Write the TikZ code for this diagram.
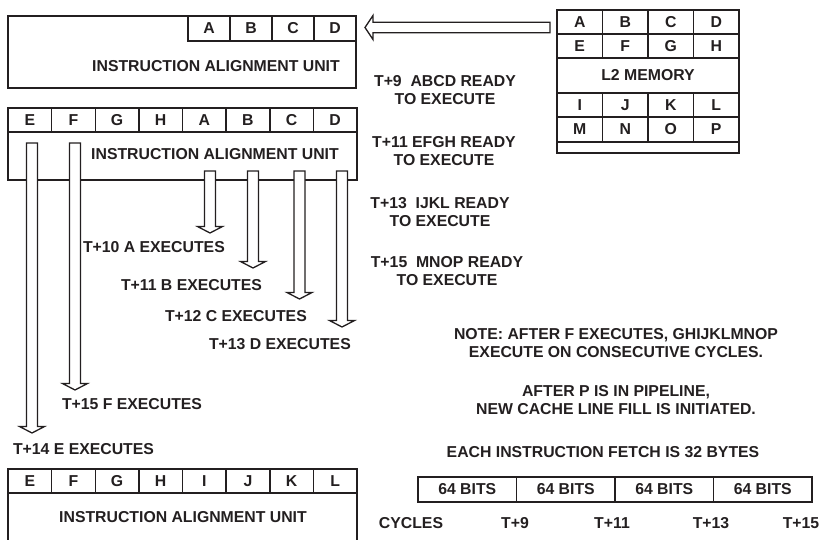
\documentclass[tikz,border=0pt]{standalone}
\usepackage{fontspec}
\setmainfont{Liberation Sans}
\usetikzlibrary{calc}
\definecolor{ink}{RGB}{35,31,32}
\newcommand\blockdown[2]{%
  \draw[blockarr] let \p1=(#1), \p2=(#2) in
    (\x1-5.5pt,\y1) -- (\x1+5.5pt,\y1) -- (\x1+5.5pt,\y2+6.5pt) -- (\x1+12.5pt,\y2+6.5pt)
    -- (\x1,\y2) -- (\x1-12.5pt,\y2+6.5pt) -- (\x1-5.5pt,\y2+6.5pt) -- cycle;}
\begin{document}
\begin{tikzpicture}[x=1pt,y=-1pt,
  every node/.style={font=\fontsize{15.8}{18}\selectfont\bfseries, text=ink, inner sep=0pt, outer sep=0pt},
  box/.style={draw=ink, line width=1.8pt, rectangle, anchor=north west},
  cell/.style={draw=ink, line width=1.5pt, rectangle, anchor=north west},
  blockarr/.style={draw=ink, fill=white, line width=1.3pt, line join=miter},
  note/.style={align=center},
  lbl/.style={anchor=west}]
\useasboundingbox (0,0) rectangle (823,539);

% ---------- top IAU ----------
\node[box, minimum width=348, minimum height=72] (iau1) at (8,16) {};
\foreach \l [count=\i from 0] in {A,B,C,D}
  \node[cell, minimum width=42, minimum height=25] (t\l) at ({188+42*\i},16) {\l};
\node (iau1t) at (216,66) {INSTRUCTION ALIGNMENT UNIT};

% ---------- L2 memory ----------
\node[box, minimum width=182, minimum height=143] (l2) at (557,10) {};
\foreach \l [count=\i from 0] in {A,B,C,D}
  \node[cell, minimum width=45.5, minimum height=24] (l2\l) at ({557+45.5*\i},10) {\l};
\foreach \l [count=\i from 0] in {E,F,G,H}
  \node[cell, minimum width=45.5, minimum height=24] (l2\l) at ({557+45.5*\i},34) {\l};
\node[cell, minimum width=182, minimum height=35] (l2mid) at (557,58) {L2 MEMORY};
\foreach \l [count=\i from 0] in {I,J,K,L}
  \node[cell, minimum width=45.5, minimum height=24] (l2\l) at ({557+45.5*\i},93) {\l};
\foreach \l [count=\i from 0] in {M,N,O,P}
  \node[cell, minimum width=45.5, minimum height=25] (l2\l) at ({557+45.5*\i},117) {\l};

% ---------- arrow L2 -> IAU ----------
\coordinate (fillsrc) at ($(l2A.west)+(-7,5.5)$);
\coordinate (filldst) at ($(iau1.north east |- fillsrc)+(9,0)$);
\draw[blockarr] let \p1=(fillsrc), \p2=(filldst) in
  (\x1,\y1+5.3pt) -- (\x2+8pt,\y1+5.3pt) -- (\x2+8pt,\y1+12pt) -- (\x2,\y2)
  -- (\x2+8pt,\y1-12pt) -- (\x2+8pt,\y1-5.3pt) -- (\x1,\y1-5.3pt) -- cycle;

% ---------- middle IAU ----------
\node[box, minimum width=349, minimum height=72] (iau2) at (8,108) {};
\foreach \l [count=\i from 0] in {E,F,G,H,A,B,C,D}
  \node[cell, minimum width=43.625, minimum height=24] (m\l) at ({8+43.625*\i},108) {\l};
\node (iau2t) at (215,154) {INSTRUCTION ALIGNMENT UNIT};

% ---------- execution arrows ----------
\coordinate (eS) at (32,143);   \coordinate (eT) at (32,433);
\coordinate (fS) at (75,143);   \coordinate (fT) at (75,390);
\coordinate (aS) at (210,171);  \coordinate (aT) at (210,233);
\coordinate (bS) at (253,171);  \coordinate (bT) at (253,268);
\coordinate (cS) at (299.5,171);\coordinate (cT) at (299.5,299);
\coordinate (dS) at (342,171);  \coordinate (dT) at (342,327);
\blockdown{eS}{eT}
\blockdown{fS}{fT}
\blockdown{aS}{aT}
\blockdown{bS}{bT}
\blockdown{cS}{cT}
\blockdown{dS}{dT}

\node[lbl] (ea) at (83,247) {T+10 A EXECUTES};
\node[lbl] (eb) at (121,285) {T+11 B EXECUTES};
\node[lbl] (ec) at (165,316) {T+12 C EXECUTES};
\node[lbl] (ed) at (209,344) {T+13 D EXECUTES};
\node[lbl] (ef) at (62,404) {T+15 F EXECUTES};
\node[lbl] (ee) at (13,449) {T+14 E EXECUTES};

% ---------- right notes ----------
\node[note] (r9)  at (445,90)  {T+9\ \ ABCD READY\\TO EXECUTE};
\node[note] (r11) at (444,151) {T+11 EFGH READY\\TO EXECUTE};
\node[note] (r13) at (440,212) {T+13\ \ IJKL READY\\TO EXECUTE};
\node[note] (r15) at (447,271) {T+15\ \ MNOP READY\\TO EXECUTE};
\node[note] (n1) at (616,343) {NOTE: AFTER F EXECUTES, GHIJKLMNOP\\EXECUTE ON CONSECUTIVE CYCLES.};
\node[note] (n2) at (616,400) {AFTER P IS IN PIPELINE,\\NEW CACHE LINE FILL IS INITIATED.};
\node (n3) at (603,452) {EACH INSTRUCTION FETCH IS 32 BYTES};

% ---------- bottom IAU ----------
\node[box, minimum width=349, minimum height=95] (iau3) at (8,469) {};
\foreach \l [count=\i from 0] in {E,F,G,H,I,J,K,L}
  \node[cell, minimum width=43.625, minimum height=24] (b\l) at ({8+43.625*\i},469) {\l};
\node (iau3t) at (183,517) {INSTRUCTION ALIGNMENT UNIT};

% ---------- 64 bit fetch ----------
\foreach \i in {0,1,2,3}
  \node[cell, minimum width=98.5, minimum height=25] (w\i) at ({418+98.5*\i},477) {64 BITS};
\node (cyc) at (411,523) {CYCLES};
\node (c9)  at (515,523) {T+9};
\node (c11) at (612,523) {T+11};
\node (c13) at (711,523) {T+13};
\node (c15) at (801,523) {T+15};
\end{tikzpicture}
\end{document}
